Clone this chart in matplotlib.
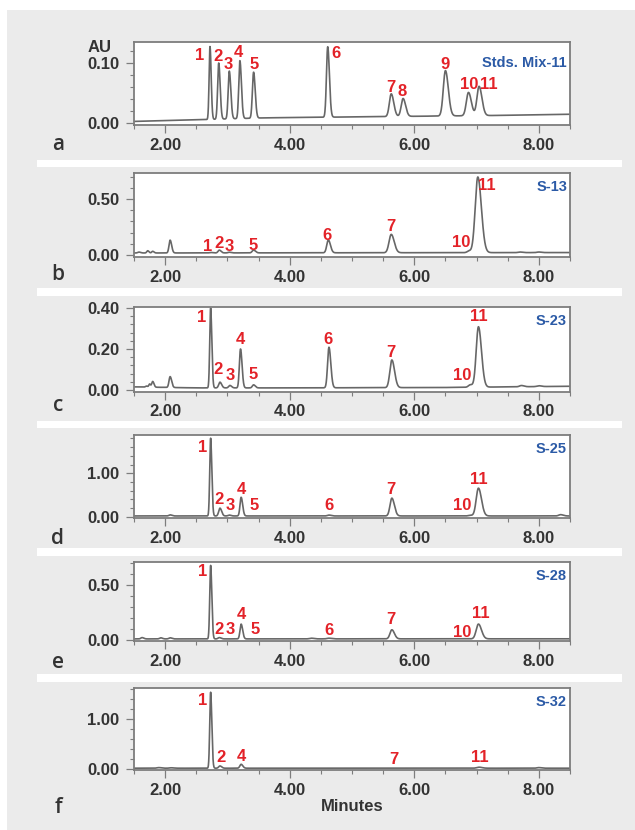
import numpy as np
import matplotlib
matplotlib.use('Agg')
import matplotlib.pyplot as plt
from matplotlib.patches import Rectangle
from matplotlib.ticker import MultipleLocator, FixedLocator, FormatStrFormatter

# ---------------- data ----------------
x_range = (1.5, 8.5)
x_major_ticks = [2.0, 4.0, 6.0, 8.0]
panel_letters = ['a', 'b', 'c', 'd', 'e', 'f']
sample_names = ['Stds. Mix-11', 'S-13', 'S-23', 'S-25', 'S-28', 'S-32']
y_limits = [(-0.004, 0.135), (-0.02, 0.735), (-0.01, 0.405),
            (-0.03, 1.88), (-0.012, 0.71), (-0.02, 1.62)]
y_major_ticks = [[0.0, 0.10], [0.0, 0.50], [0.0, 0.20, 0.40],
                 [0.0, 1.00], [0.0, 0.50], [0.0, 1.00]]
y_minor_steps = [0.02, 0.1, 0.04, 0.2, 0.1, 0.2]

# panel a : standards mix
a_rt = [2.72, 2.86, 3.03, 3.20, 3.42, 4.61, 5.63, 5.82, 6.50, 6.87, 7.04]
a_height = [0.122, 0.094, 0.080, 0.097, 0.077, 0.118, 0.038, 0.030, 0.076, 0.039, 0.049]
a_sigma = [0.014, 0.017, 0.018, 0.018, 0.019, 0.020, 0.030, 0.030, 0.034, 0.034, 0.034]
a_base_t = [1.5, 2.6, 3.6, 7.3, 8.5]
a_base_y = [0.002, 0.005, 0.008, 0.012, 0.014]
a_labels = ['1', '2', '3', '4', '5', '6', '7', '8', '9', '10', '11']
a_label_x = [2.55, 2.85, 3.02, 3.18, 3.43, 4.74, 5.62, 5.81, 6.49, 6.88, 7.20]
a_label_y = [0.113, 0.110, 0.098, 0.117, 0.098, 0.116, 0.059, 0.052, 0.097, 0.064, 0.063]

# panel b : S-13
b_rt = [1.58, 1.72, 1.80, 2.08, 2.73, 2.87, 3.03, 3.42, 4.62, 5.63, 6.88, 7.02, 7.70, 8.00]
b_height = [0.008, 0.020, 0.015, 0.115, 0.004, 0.025, 0.006, 0.025, 0.115, 0.165, 0.015, 0.68, 0.005, 0.005]
b_sigma = [0.02, 0.015, 0.015, 0.018, 0.02, 0.02, 0.02, 0.022, 0.025, 0.035, 0.03, 0.042, 0.03, 0.03]
b_base_t = [1.5, 8.5]
b_base_y = [0.016, 0.020]
b_labels = ['1', '2', '3', '5', '6', '7', '10', '11']
b_label_x = [2.69, 2.86, 3.03, 3.42, 4.60, 5.62, 6.76, 7.17]
b_label_y = [0.072, 0.102, 0.075, 0.082, 0.175, 0.250, 0.110, 0.626]

# panel c : S-23
c_rt = [1.70, 1.75, 1.80, 2.08, 2.73, 2.88, 3.04, 3.21, 3.42, 4.63, 5.64, 6.90, 7.03, 7.72, 8.00]
c_height = [0.005, 0.015, 0.028, 0.053, 0.39, 0.028, 0.012, 0.19, 0.015, 0.198, 0.135, 0.012, 0.295, 0.006, 0.004]
c_sigma = [0.015, 0.012, 0.015, 0.018, 0.014, 0.02, 0.02, 0.018, 0.02, 0.022, 0.032, 0.03, 0.036, 0.03, 0.03]
c_base_t = [1.5, 2.5, 4.0, 6.5, 8.5]
c_base_y = [0.015, 0.010, 0.010, 0.012, 0.018]
c_labels = ['1', '2', '3', '4', '5', '6', '7', '10', '11']
c_label_x = [2.58, 2.85, 3.05, 3.21, 3.42, 4.62, 5.63, 6.77, 7.04]
c_label_y = [0.355, 0.100, 0.070, 0.245, 0.075, 0.245, 0.185, 0.070, 0.360]

# panel d : S-25
d_rt = [2.08, 2.73, 2.88, 3.03, 3.22, 4.63, 5.64, 6.90, 7.03, 8.35]
d_height = [0.025, 1.79, 0.18, 0.02, 0.43, 0.02, 0.41, 0.015, 0.64, 0.03]
d_sigma = [0.02, 0.014, 0.02, 0.02, 0.018, 0.025, 0.03, 0.03, 0.036, 0.03]
d_base_t = [1.5, 8.5]
d_base_y = [0.017, 0.017]
d_labels = ['1', '2', '3', '4', '5', '6', '7', '10', '11']
d_label_x = [2.60, 2.86, 3.04, 3.22, 3.43, 4.63, 5.63, 6.77, 7.04]
d_label_y = [1.59, 0.39, 0.25, 0.63, 0.26, 0.26, 0.63, 0.26, 0.86]

# panel e : S-28
e_rt = [1.63, 1.93, 2.08, 2.73, 2.87, 3.22, 4.35, 4.63, 5.64, 7.03]
e_height = [0.012, 0.010, 0.010, 0.672, 0.012, 0.135, 0.006, 0.006, 0.083, 0.135]
e_sigma = [0.02, 0.02, 0.02, 0.014, 0.02, 0.018, 0.03, 0.03, 0.03, 0.036]
e_base_t = [1.5, 8.5]
e_base_y = [0.007, 0.008]
e_labels = ['1', '2', '3', '4', '5', '6', '7', '10', '11']
e_label_x = [2.60, 2.86, 3.05, 3.22, 3.44, 4.63, 5.63, 6.77, 7.07]
e_label_y = [0.625, 0.095, 0.095, 0.227, 0.090, 0.085, 0.180, 0.062, 0.240]

# panel f : S-32
f_rt = [1.90, 2.10, 2.73, 2.88, 3.22, 7.04, 8.00]
f_height = [0.012, 0.008, 1.52, 0.045, 0.078, 0.020, 0.012]
f_sigma = [0.03, 0.03, 0.014, 0.02, 0.02, 0.036, 0.03]
f_base_t = [1.5, 8.5]
f_base_y = [0.016, 0.016]
f_labels = ['1', '2', '4', '7', '11']
f_label_x = [2.60, 2.89, 3.23, 5.67, 7.05]
f_label_y = [1.38, 0.235, 0.26, 0.195, 0.235]

panels = [
    (a_rt, a_height, a_sigma, a_base_t, a_base_y, a_labels, a_label_x, a_label_y),
    (b_rt, b_height, b_sigma, b_base_t, b_base_y, b_labels, b_label_x, b_label_y),
    (c_rt, c_height, c_sigma, c_base_t, c_base_y, c_labels, c_label_x, c_label_y),
    (d_rt, d_height, d_sigma, d_base_t, d_base_y, d_labels, d_label_x, d_label_y),
    (e_rt, e_height, e_sigma, e_base_t, e_base_y, e_labels, e_label_x, e_label_y),
    (f_rt, f_height, f_sigma, f_base_t, f_base_y, f_labels, f_label_x, f_label_y),
]

# ---------------- layout (pixels) ----------------
W, H, DPI = 635, 830, 100
frame_left, frame_right = 134, 570
frames_px = [(42, 125), (173, 257), (307, 392), (435, 518), (562, 641), (688, 770)]
letter_y_px = [145, 275, 405, 538, 662, 807]
bands_px = [(160, 167), (288, 296), (421, 428), (548, 556), (674, 682)]
sample_offset_px = [21, 14, 14, 14, 14, 14]

BG = '#ebebeb'
TRACE = '#676767'
FRAME = '#7d7d7d'
TXT = '#333333'
RED = '#e32228'
BLUE = '#2b5aa6'

plt.rcParams['font.family'] = ['Liberation Sans', 'DejaVu Sans']
plt.rcParams['font.weight'] = 'bold'
narrow = ['Liberation Sans Narrow', 'Liberation Sans', 'DejaVu Sans']

fig = plt.figure(figsize=(W / DPI, H / DPI), dpi=DPI, facecolor='white')


def fx(px):
    return px / W


def fy(py):
    return 1 - py / H


fig.add_artist(Rectangle((fx(7), 0), 1 - fx(7), fy(10), transform=fig.transFigure,
                         facecolor=BG, edgecolor='none', zorder=-10))
for (tp, bt_) in bands_px:
    fig.add_artist(Rectangle((fx(37), fy(bt_)), fx(622 - 37), (bt_ - tp) / H,
                             transform=fig.transFigure, facecolor='white',
                             edgecolor='none', zorder=-9))

t = np.linspace(x_range[0], x_range[1], 4000)
tail = 1.35

for i, (rt, hh, sg, bt, by, labs, lx, ly) in enumerate(panels):
    top, bot = frames_px[i]
    ax = fig.add_axes([fx(frame_left), fy(bot), fx(frame_right - frame_left), (bot - top) / H])
    ax.set_zorder(1)
    ax.set_facecolor('white')
    y = np.interp(t, bt, by)
    for r, h, s in zip(rt, hh, sg):
        sig = np.where(t < r, s, s * tail)
        y = y + h * np.exp(-0.5 * ((t - r) / sig) ** 2)
    ax.plot(t, y, color=TRACE, lw=1.2, solid_joinstyle='round', clip_on=True)
    ax.set_xlim(*x_range)
    ax.set_ylim(*y_limits[i])
    ax.xaxis.set_major_locator(FixedLocator(x_major_ticks))
    ax.xaxis.set_minor_locator(MultipleLocator(0.5))
    ax.yaxis.set_major_locator(FixedLocator(y_major_ticks[i]))
    ax.yaxis.set_minor_locator(MultipleLocator(y_minor_steps[i]))
    ax.xaxis.set_major_formatter(FormatStrFormatter('%.2f'))
    ax.yaxis.set_major_formatter(FormatStrFormatter('%.2f'))
    for sp in ax.spines.values():
        sp.set_color(FRAME)
        sp.set_linewidth(1.3)
    ax.tick_params(which='major', length=5.5, width=0.9, color=FRAME,
                   labelsize=12, labelcolor=TXT, pad=3.5)
    ax.tick_params(which='minor', length=3, width=0.8, color=FRAME)
    ax.tick_params(axis='y', which='major', pad=5)
    for lab in ax.get_xticklabels() + ax.get_yticklabels():
        lab.set_fontweight('bold')
    for s_, x_, y_ in zip(labs, lx, ly):
        ax.text(x_, y_, s_, color=RED, fontsize=12, fontweight='bold', family=narrow,
                ha='center', va='center')
    ax.text(1 - 3 / (frame_right - frame_left), 1 - sample_offset_px[i] / (bot - top),
            sample_names[i], transform=ax.transAxes, color=BLUE, fontsize=10.5,
            fontweight='bold', family=narrow, ha='right', va='center')
    fig.text(fx(58), fy(letter_y_px[i]), panel_letters[i], color=TXT, fontsize=15,
             fontweight='semibold', family=['Open Sans', 'DejaVu Sans'], ha='center', va='center')

fig.text(fx(100), fy(48), 'AU', color=TXT, fontsize=12, fontweight='bold', ha='center', va='center')
fig.text(fx(352), fy(806), 'Minutes', color=TXT, fontsize=12, fontweight='bold', ha='center', va='center')

fig.savefig('out.png', dpi=DPI, facecolor='white')
